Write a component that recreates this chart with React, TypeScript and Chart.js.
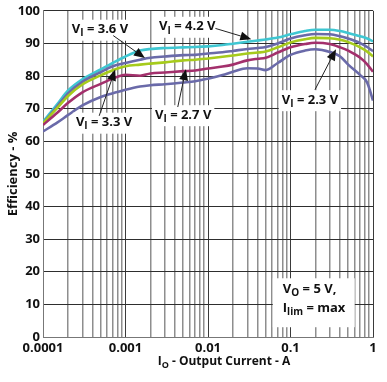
import React, { useEffect, useRef } from "react";
import { Chart, registerables } from "chart.js";

Chart.register(...registerables);

const FONT = '"Open Sans", "DejaVu Sans", sans-serif';

// Output current (A)
const currents = [
  0.0001, 0.00015, 0.0002, 0.0003, 0.0005, 0.0007, 0.001, 0.0015, 0.002, 0.003,
  0.005, 0.007, 0.01, 0.015, 0.02, 0.03, 0.04, 0.05, 0.07, 0.1, 0.15, 0.2, 0.3,
  0.4, 0.5, 0.7, 0.85, 1,
];

// Efficiency (%) per input voltage
const eff42 = [
  66, 71.5, 75.5, 79, 82, 84, 86, 87.8, 88.3, 88.6, 88.8, 88.9, 89.1, 89.5,
  89.9, 90.5, 90.9, 91.2, 91.8, 92.8, 93.8, 94.2, 94.2, 93.8, 93.2, 92.2, 91.5,
  90.6,
];
const eff36 = [
  65.5, 70.8, 74.6, 78.2, 81.2, 83, 84, 85, 85.6, 86, 86.4, 86.5, 86.9, 87.3,
  87.7, 88.3, 88.6, 88.9, 90, 91.5, 92.5, 92.9, 92.8, 92.2, 91.5, 90.1, 88.9,
  87.6,
];
const eff33 = [
  65.5, 70.3, 73.8, 77.4, 80.2, 81.8, 83, 83.5, 83.8, 84.2, 84.8, 85, 85.4,
  85.9, 86.3, 86.9, 87.2, 87.5, 88.8, 90.3, 91.3, 91.7, 91.6, 91.1, 90.4, 88.8,
  87.5, 86,
];
const eff27 = [
  65, 68.8, 71.7, 75, 77.6, 79.2, 80.4, 80.1, 80.8, 81.1, 81.5, 81.7, 82.3,
  82.9, 83.5, 84.8, 85.3, 85.6, 87.2, 88.8, 89.8, 90.2, 89.8, 88.8, 87.8, 85.6,
  83.6, 81.3,
];
const eff23 = [
  63, 65.8, 68, 71, 73.6, 74.7, 75.8, 76.8, 77.2, 77.5, 78, 78.4, 79.2, 80.3,
  81.3, 82.4, 82.3, 81.8, 84, 86.5, 87.8, 88.2, 87.4, 86, 83.5, 80.3, 78,
  72.5,
];

const seriesNames = ["4.2", "3.6", "3.3", "2.7", "2.3"];
const seriesValues = [eff42, eff36, eff33, eff27, eff23];
const seriesColors = ["#3fc7d2", "#6a6aa9", "#a6cb1c", "#a3306c", "#6a6aa9"];

const yTicks = [0, 10, 20, 30, 40, 50, 60, 70, 80, 90, 100];
const xLabelTicks = [0.0001, 0.001, 0.01, 0.1, 1];
const xLabelTexts = ["0.0001", "0.001", "0.01", "0.1", "1"];

// Callout labels: text anchor and arrow tail/head in data coordinates
const callouts = [
  { v: "3.6", tx: 0.00049, ty: 94.2, ax: 0.00071, ay: 92.4, hx: 0.00172, hy: 85.5 },
  { v: "4.2", tx: 0.0056, ty: 95.1, ax: 0.0123, ay: 94.6, hx: 0.0335, hy: 91.3 },
  { v: "3.3", tx: 0.00055, ty: 65.7, ax: 0.00048, ay: 67.8, hx: 0.00075, hy: 82 },
  { v: "2.7", tx: 0.005, ty: 68, ax: 0.0043, ay: 70.5, hx: 0.0054, hy: 82.1 },
  { v: "2.3", tx: 0.172, ty: 72.6, ax: 0.198, ay: 75.8, hx: 0.356, hy: 88.2 },
];

function isDecade(v: number) {
  const l = Math.log10(v);
  return Math.abs(l - Math.round(l)) < 1e-9;
}

function drawSub(
  ctx: CanvasRenderingContext2D,
  x: number,
  y: number,
  main: string,
  sub: string,
  rest: string,
  size: number,
  align: "left" | "center"
) {
  const subSize = Math.round(size * 0.75);
  ctx.font = `bold ${size}px ${FONT}`;
  const w1 = ctx.measureText(main).width;
  const w3 = ctx.measureText(rest).width;
  ctx.font = `bold ${subSize}px ${FONT}`;
  const w2 = ctx.measureText(sub).width;
  const total = w1 + w2 + w3;
  const sx = align === "center" ? x - total / 2 : x;
  ctx.textBaseline = "middle";
  ctx.textAlign = "left";
  ctx.fillStyle = "#111";
  ctx.font = `bold ${size}px ${FONT}`;
  ctx.fillText(main, sx, y);
  ctx.font = `bold ${subSize}px ${FONT}`;
  ctx.fillText(sub, sx + w1, y + size * 0.3);
  ctx.font = `bold ${size}px ${FONT}`;
  ctx.fillText(rest, sx + w1 + w2, y);
  return { sx, total };
}

function measureSub(ctx: CanvasRenderingContext2D, main: string, sub: string, rest: string, size: number) {
  const subSize = Math.round(size * 0.75);
  ctx.font = `bold ${size}px ${FONT}`;
  const w1 = ctx.measureText(main).width;
  const w3 = ctx.measureText(rest).width;
  ctx.font = `bold ${subSize}px ${FONT}`;
  const w2 = ctx.measureText(sub).width;
  return w1 + w2 + w3;
}

function arrow(ctx: CanvasRenderingContext2D, x1: number, y1: number, x2: number, y2: number) {
  const ang = Math.atan2(y2 - y1, x2 - x1);
  const len = 11;
  const half = 4.5;
  const bx = x2 - len * Math.cos(ang);
  const by = y2 - len * Math.sin(ang);
  ctx.strokeStyle = "#222";
  ctx.lineWidth = 1;
  ctx.beginPath();
  ctx.moveTo(x1, y1);
  ctx.lineTo(bx, by);
  ctx.stroke();
  ctx.fillStyle = "#111";
  ctx.beginPath();
  ctx.moveTo(x2, y2);
  ctx.lineTo(bx + half * Math.sin(ang), by - half * Math.cos(ang));
  ctx.lineTo(bx - half * Math.sin(ang), by + half * Math.cos(ang));
  ctx.closePath();
  ctx.fill();
}

const annotationPlugin = {
  id: "annotations",
  afterDraw(chart: any) {
    const ctx: CanvasRenderingContext2D = chart.ctx;
    const xs = chart.scales.x;
    const ys = chart.scales.y;
    const area = chart.chartArea;
    ctx.save();

    // callouts
    for (const c of callouts) {
      const tx = xs.getPixelForValue(c.tx);
      const ty = ys.getPixelForValue(c.ty);
      const w = measureSub(ctx, "V", "I", ` = ${c.v} V`, 13);
      ctx.fillStyle = "#fff";
      ctx.fillRect(tx - w / 2 - 3, ty - 10, w + 6, 21);
      drawSub(ctx, tx, ty, "V", "I", ` = ${c.v} V`, 13, "center");
      arrow(
        ctx,
        xs.getPixelForValue(c.ax),
        ys.getPixelForValue(c.ay),
        xs.getPixelForValue(c.hx),
        ys.getPixelForValue(c.hy)
      );
    }

    // conditions box (bottom right)
    const bx = xs.getPixelForValue(0.061);
    const bx2 = xs.getPixelForValue(0.6);
    const by = ys.getPixelForValue(18);
    const by2 = ys.getPixelForValue(3);
    ctx.fillStyle = "#fff";
    ctx.fillRect(bx, by, bx2 - bx, by2 - by);
    drawSub(ctx, bx + 10, by + 11, "V", "O", " = 5 V,", 13, "left");
    drawSub(ctx, bx + 10, by + 30, "I", "lim", " = max", 13, "left");

    // x tick labels (decades)
    ctx.font = `bold 13px ${FONT}`;
    ctx.fillStyle = "#111";
    ctx.textAlign = "center";
    ctx.textBaseline = "middle";
    xLabelTicks.forEach((v, i) => {
      ctx.fillText(xLabelTexts[i], xs.getPixelForValue(v), area.bottom + 11);
    });

    // axis titles
    const xCenter = (area.left + area.right) / 2 + 16;
    drawSub(ctx, xCenter, 362, "I", "O", " - Output Current - A", 12, "center");

    ctx.translate(13, (area.top + area.bottom) / 2);
    ctx.rotate(-Math.PI / 2);
    ctx.font = `bold 13px ${FONT}`;
    ctx.fillStyle = "#111";
    ctx.textAlign = "center";
    ctx.textBaseline = "middle";
    ctx.fillText("Efficiency - %", 0, 0);
    ctx.restore();
  },
};

export default function App() {
  const ref = useRef<HTMLCanvasElement | null>(null);

  useEffect(() => {
    if (!ref.current) return;
    const xTickValues: number[] = [];
    for (let d = -4; d < 0; d++) {
      for (let m = 1; m <= 9; m++) xTickValues.push(m * Math.pow(10, d));
    }
    xTickValues.push(1);

    const chart = new Chart(ref.current, {
      type: "line",
      data: {
        datasets: seriesNames.map((n, i) => ({
          label: `VI = ${n} V`,
          data: currents.map((c, k) => ({ x: c, y: seriesValues[i][k] })),
          borderColor: seriesColors[i],
          backgroundColor: seriesColors[i],
          borderWidth: 2.6,
          pointRadius: 0,
          tension: 0.4,
          cubicInterpolationMode: "monotone" as const,
          fill: false,
        })).reverse(),
      },
      options: {
        animation: false,
        responsive: false,
        devicePixelRatio: 1,
        layout: { padding: { top: 4, right: 14, left: 0, bottom: 0 } },
        plugins: { legend: { display: false }, tooltip: { enabled: false } },
        scales: {
          x: {
            type: "logarithmic",
            min: 0.0001,
            max: 1,
            afterBuildTicks: (scale: any) => {
              scale.ticks = xTickValues.map((v) => ({ value: v }));
            },
            afterFit: (scale: any) => {
              scale.height = 45;
            },
            ticks: { display: false },
            grid: {
              drawTicks: false,
              color: (c: any) => (c.tick && isDecade(c.tick.value) ? "#3a3a3a" : "#8e8e8e"),
              lineWidth: (c: any) => (c.tick && isDecade(c.tick.value) ? 1 : 1.5),
            },
            border: { color: "#777", width: 1 },
          },
          y: {
            min: 0,
            max: 100,
            afterBuildTicks: (scale: any) => {
              scale.ticks = yTicks.map((v) => ({ value: v }));
            },
            afterFit: (scale: any) => {
              scale.width = 43;
            },
            ticks: {
              padding: 3,
              color: "#111",
              font: { family: FONT, weight: "bold", size: 13 },
            },
            grid: { drawTicks: false, color: "#2e2e2e", lineWidth: 1 },
            border: { color: "#777", width: 1 },
          },
        },
      },
      plugins: [annotationPlugin],
    } as any);
    return () => chart.destroy();
  }, []);

  return (
    <div style={{ position: "absolute", left: 0, top: 0, width: 387, height: 382, background: "#fff" }}>
      <canvas ref={ref} width={387} height={382} style={{ display: "block" }} />
    </div>
  );
}
